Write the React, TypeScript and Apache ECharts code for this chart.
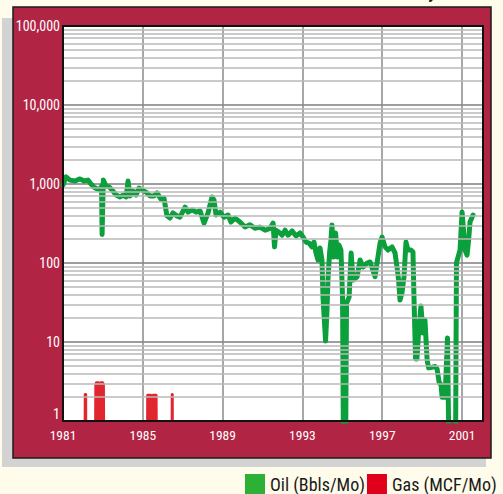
import React, { useEffect, useRef } from "react";
import * as echarts from "echarts";

// Oil production (Bbls/Mo); 0 = no production (drawn below the axis floor)
const oilYears = [
  1981.0, 1981.15, 1981.35, 1981.6, 1981.85, 1982.05, 1982.25, 1982.4, 1982.55, 1982.7,
  1982.85, 1982.93, 1982.96, 1983.02, 1983.16, 1983.31, 1983.46, 1983.66, 1983.86, 1984.01,
  1984.16, 1984.26, 1984.36, 1984.51, 1984.66, 1984.81, 1984.96, 1985.16, 1985.36, 1985.56,
  1985.71, 1985.91, 1986.06, 1986.21, 1986.36, 1986.51, 1986.71, 1986.86, 1987.12, 1987.27,
  1987.47, 1987.67, 1987.87, 1988.07, 1988.27, 1988.47, 1988.57, 1988.67, 1988.87, 1989.07,
  1989.27, 1989.42, 1989.62, 1989.87, 1990.12, 1990.37, 1990.62, 1990.87, 1991.13, 1991.38,
  1991.53, 1991.6, 1991.68, 1991.83, 1991.98, 1992.13, 1992.28, 1992.48, 1992.68, 1992.88,
  1993.03, 1993.18, 1993.33, 1993.48, 1993.58, 1993.68, 1993.78, 1993.88, 1993.98, 1994.03,
  1994.16, 1994.23, 1994.28, 1994.36, 1994.43, 1994.48, 1994.56, 1994.66, 1994.76, 1994.83,
  1994.93, 1995.01, 1995.06, 1995.16, 1995.21, 1995.34, 1995.44, 1995.54, 1995.74, 1995.89,
  1996.04, 1996.24, 1996.39, 1996.64, 1996.74, 1996.89, 1996.99, 1997.14, 1997.29, 1997.49,
  1997.64, 1997.74, 1997.82, 1997.89, 1997.99, 1998.09, 1998.19, 1998.29, 1998.44, 1998.54,
  1998.59, 1998.67, 1998.74, 1998.82, 1998.94, 1999.04, 1999.14, 1999.25, 1999.32, 1999.5,
  1999.65, 1999.75, 1999.85, 1999.95, 2000.0, 2000.15, 2000.27, 2000.35, 2000.67, 2000.72,
  2000.8, 2000.9, 2001.0, 2001.08, 2001.15, 2001.25, 2001.33, 2001.4, 2001.55,
];
const oilValues = [
  970, 1230, 1120, 1090, 1160, 1090, 1120, 1000, 915, 865,
  840, 940, 230, 1120, 940, 920, 840, 725, 685, 725,
  685, 1090, 705, 815, 725, 890, 840, 790, 705, 705,
  770, 645, 665, 395, 370, 430, 395, 380, 510, 440,
  470, 440, 455, 320, 430, 685, 625, 405, 440, 380,
  405, 330, 370, 330, 285, 305, 275, 285, 260, 275,
  320, 160, 260, 245, 225, 260, 225, 255, 220, 240,
  213, 184, 179, 160, 184, 134, 109, 155, 109, 37,
  10.3, 25, 61, 134, 196, 303, 119, 240, 119, 169,
  146, 37, 0, 0, 31, 37, 134, 61, 67, 109,
  89, 100, 103, 67, 100, 179, 213, 160, 146, 160,
  134, 89, 61, 34, 42, 67, 184, 146, 146, 138,
  37, 6.1, 6.1, 13, 28.6, 13, 19, 5.9, 4.7, 4.8,
  4.9, 4.55, 3.1, 2.86, 2.0, 2.0, 11.2, 0, 0, 100,
  119, 146, 442, 247, 146, 126, 196, 330, 405,
];

// Gas production (MCF/Mo); null separates the short production bursts
const gasYears = [
  1982.08, 1982.09, 1982.16, 1982.17, 1982.2,
  1982.6, 1982.62, 1982.66, 1982.8, 1982.83, 1982.85,
  1982.86, 1982.87, 1983.0, 1983.05, 1983.07, 1983.1,
  1985.21, 1985.22, 1985.42, 1985.44, 1985.46,
  1985.48, 1985.49, 1985.69, 1985.71, 1985.8,
  1986.44, 1986.45, 1986.5, 1986.51,
];
const gasValues: (number | null)[] = [
  0, 2.2, 2.2, 0, null,
  0, 2.9, 3.1, 3.1, 0, null,
  0, 3.1, 3.1, 2.9, 0, null,
  0, 2.15, 2.15, 0, null,
  0, 2.15, 2.15, 0, null,
  0, 2.2, 2.2, 0,
];

const seriesNames = ["Oil (Bbls/Mo)", "Gas (MCF/Mo)"];
const yDecades = [1, 10, 100, 1000, 10000];
const minorSteps = [2, 3, 4, 5, 6, 7, 8, 9];

const FONT = "'Liberation Sans Narrow', 'Arial Narrow', 'Roboto Condensed', 'Liberation Sans', sans-serif";

export default function App() {
  const ref = useRef<HTMLDivElement>(null);
  useEffect(() => {
    if (!ref.current) return;
    const chart = echarts.init(ref.current, null, { renderer: "svg" });
    const BELOW = 0.3;
    const oilData = oilYears.map((yr, i) => [yr, oilValues[i] === 0 ? BELOW : oilValues[i]]);
    const gasData = gasYears.map((yr, i) => {
      const v = gasValues[i];
      return [yr, v === null ? "-" : v === 0 ? BELOW : v];
    });
    const minorValues: number[] = [];
    yDecades.forEach((d) => minorSteps.forEach((m) => minorValues.push(m * d)));

    chart.setOption({
      animation: false,
      backgroundColor: "#FFFCEB",
      graphic: [
        { type: "rect", z: -20, shape: { x: 2, y: 18, width: 484, height: 449 }, style: { fill: "#D3D3D3" } },
        {
          type: "rect",
          z: -19,
          shape: { x: 13, y: 7, width: 478, height: 451 },
          style: { fill: "#B22444", stroke: "#1c1c1c", lineWidth: 1.5 },
        },
        {
          type: "text",
          z: -18,
          x: 428,
          y: -18,
          style: { text: "y", font: "bold 18px " + FONT, fill: "#222" },
        },
        {
          type: "rect",
          z: 100,
          silent: true,
          shape: { x: 63, y: 26, width: 420, height: 395 },
          style: { fill: "none", stroke: "#111", lineWidth: 2 },
        },
      ],
      grid: {
        left: 63,
        top: 26,
        width: 420,
        height: 395,
        show: true,
        backgroundColor: "#ffffff",
        borderWidth: 0,
      },
      legend: {
        left: 245,
        top: 474,
        width: 320,
        padding: 0,
        itemWidth: 20,
        itemHeight: 20,
        itemGap: 2,
        icon: "rect",
        selectedMode: false,
        textStyle: { fontSize: 18, color: "#1a1a1a", fontFamily: FONT },
        data: [
          { name: seriesNames[0], itemStyle: { color: "#2DB036" } },
          { name: seriesNames[1], itemStyle: { color: "#E1001C" } },
        ],
      },
      xAxis: {
        type: "value",
        min: 1981,
        max: 2002.05,
        interval: 4,
        axisLine: { show: false },
        axisTick: { show: false },
        axisLabel: {
          color: "#ffffff",
          fontSize: 13.5,
          fontFamily: FONT,
          margin: 7,
          showMaxLabel: false,
          formatter: (v: number) => String(Math.round(v)),
        },
        splitLine: { show: true, lineStyle: { color: "#8a8a8a", width: 1.5 } },
      },
      yAxis: {
        type: "log",
        logBase: 10,
        min: 1,
        max: 100000,
        axisLine: { show: false },
        axisTick: { show: false },
        axisLabel: {
          color: "#ffffff",
          fontSize: 14,
          fontFamily: FONT,
          margin: 3,
          verticalAlignMinLabel: "bottom",
          formatter: (v: number) => Math.round(v).toLocaleString("en-US"),
        },
        splitLine: { show: true, lineStyle: { color: "#7e7e7e", width: 1.5 } },
      },
      series: [
        {
          type: "line",
          data: [],
          silent: true,
          z: 1,
          markLine: {
            silent: true,
            symbol: "none",
            label: { show: false },
            lineStyle: { color: "#b9b9b9", width: 1.5, type: "solid" },
            data: minorValues.map((v) => ({ yAxis: v })),
          },
        },
        {
          name: seriesNames[1],
          type: "line",
          data: gasData,
          z: 2,
          symbol: "none",
          showSymbol: false,
          connectNulls: false,
          itemStyle: { color: "#E1262F" },
          lineStyle: { color: "#E1262F", width: 2 },
          areaStyle: { color: "#E1262F", opacity: 1, origin: "start" },
        },
        {
          name: seriesNames[0],
          type: "line",
          data: oilData,
          z: 3,
          symbol: "none",
          showSymbol: false,
          itemStyle: { color: "#0CA03D" },
          lineStyle: { color: "#0CA03D", width: 5, join: "round", cap: "round" },
        },
      ],
    });
    return () => chart.dispose();
  }, []);
  return (
    <div
      ref={ref}
      style={{ position: "fixed", left: 0, top: 0, width: 503, height: 494 }}
    />
  );
}
